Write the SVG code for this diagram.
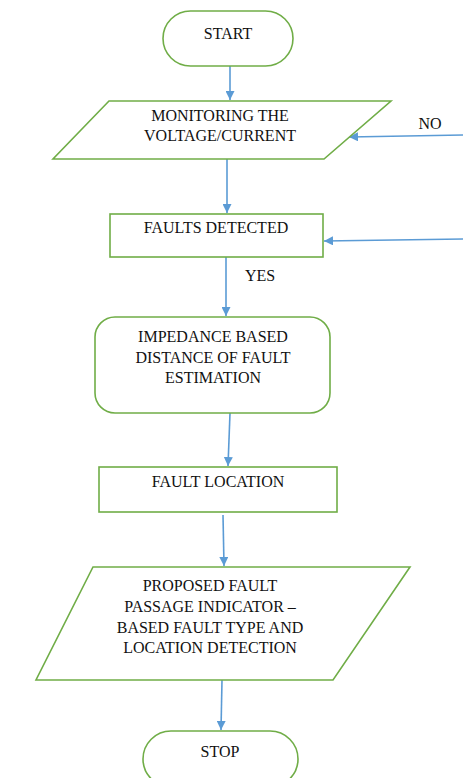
<svg xmlns="http://www.w3.org/2000/svg" width="463" height="778" viewBox="0 0 463 778">
<defs>
<marker id="ah" viewBox="0 0 10 10" refX="10" refY="5" markerWidth="9" markerHeight="9" markerUnits="userSpaceOnUse" orient="auto">
<path d="M0,0 L10,5 L0,10 z" fill="#5b9bd5"/>
</marker>
<style>
.n{fill:#fff;stroke:#70ad47;stroke-width:1.6}
.c{fill:none;stroke:#5b9bd5;stroke-width:1.6;marker-end:url(#ah)}
</style>
</defs>
<rect width="463" height="778" fill="#fff"/>
<g font-family="Liberation Serif, DejaVu Serif, serif" font-size="16" fill="#111" text-anchor="middle">
<g id="connectors">
<line class="c" x1="230" y1="66" x2="230" y2="100"/>
<line class="c" x1="463" y1="135" x2="349" y2="137"/>
<line class="c" x1="227" y1="159" x2="227" y2="213"/>
<line class="c" x1="463" y1="239" x2="324" y2="241"/>
<line class="c" x1="226" y1="257" x2="226" y2="316"/>
<line class="c" x1="230" y1="413" x2="228" y2="466"/>
<line class="c" x1="223" y1="515" x2="224" y2="566"/>
<line class="c" x1="222" y1="680" x2="221" y2="730"/>
<text x="430" y="129">NO</text>
<text x="260" y="281">YES</text>
</g>
<g id="start">
<rect class="n" x="163" y="11" width="130" height="55" rx="27.5"/>
<text x="228" y="39">START</text>
</g>
<g id="monitoring">
<polygon class="n" points="109,101 391,101 324,159 53,159"/>
<text x="220" y="121">MONITORING THE</text>
<text x="220" y="141">VOLTAGE/CURRENT</text>
</g>
<g id="faults-detected">
<rect class="n" x="110" y="214" width="213" height="43"/>
<text x="216" y="233">FAULTS DETECTED</text>
</g>
<g id="impedance">
<rect class="n" x="95" y="317" width="235" height="96" rx="20"/>
<text x="213" y="342">IMPEDANCE BASED</text>
<text x="213" y="363">DISTANCE OF FAULT</text>
<text x="213" y="383">ESTIMATION</text>
</g>
<g id="fault-location">
<rect class="n" x="99" y="467" width="238" height="45"/>
<text x="218" y="487">FAULT LOCATION</text>
</g>
<g id="proposed">
<polygon class="n" points="93,567 410,567 333,680 36,680"/>
<text x="210" y="591">PROPOSED FAULT</text>
<text x="210" y="612">PASSAGE INDICATOR –</text>
<text x="210" y="633">BASED FAULT TYPE AND</text>
<text x="210" y="653">LOCATION DETECTION</text>
</g>
<g id="stop">
<rect class="n" x="143" y="731" width="155" height="56" rx="28"/>
<text x="220" y="757">STOP</text>
</g>
</g>
</svg>
